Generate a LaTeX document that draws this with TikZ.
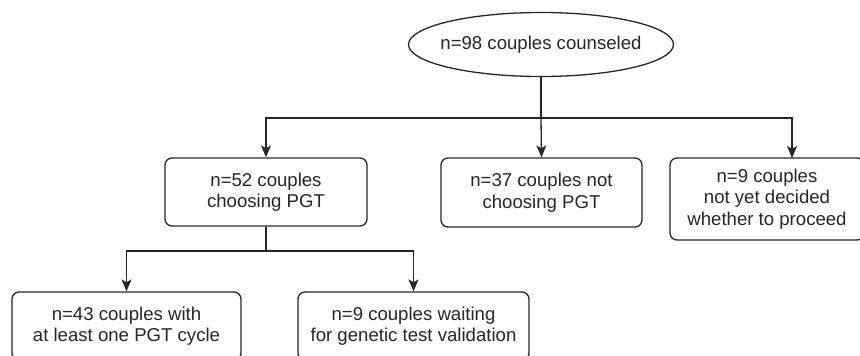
\documentclass[tikz,border=0pt]{standalone}
\usepackage{fontspec}
\setmainfont{Liberation Sans}
\usetikzlibrary{shapes.geometric,arrows.meta}
\definecolor{ink}{HTML}{262626}
\tikzset{
  x=1pt, y=-1pt,
  every node/.style={font=\fontsize{18.6}{21.5}\selectfont, text=ink},
  box/.style={draw=ink, line width=1.3pt, rounded corners=7pt, align=center, inner sep=0pt},
  oval/.style={draw=ink, line width=1.3pt, ellipse, inner sep=0pt, minimum width=265pt, minimum height=64pt},
  conn/.style={draw=ink, line width=1.3pt},
  arr/.style={conn, -{Stealth[length=12pt,width=10pt,inset=3pt]}}
}
\begin{document}
\begin{tikzpicture}
\useasboundingbox (0,0) rectangle (860,356);
\node[oval] (top) at (541,44.5) {};
\node (toptext) at (top.center) {n=98 couples counseled};
\node[box, minimum width=202pt, minimum height=68pt] (b1) at (266,192) {n=52 couples\\choosing PGT};
\node[box, minimum width=201pt, minimum height=69pt] (b2) at (541.5,192.5) {n=37 couples not\\choosing PGT};
\node[box, minimum width=194pt, minimum height=82pt] (b3) at (767,199) {n=9 couples\\not yet decided\\whether to proceed};
\node[box, minimum width=229pt, minimum height=68pt] (b4) at (126.5,326) {n=43 couples with\\at least one PGT cycle};
\node[box, minimum width=231pt, minimum height=68pt] (b5) at (413.5,326) {n=9 couples waiting\\for genetic test validation};
\coordinate (j1) at (541,118);
\coordinate (b3in) at (792,158);
\coordinate (j2) at (266,251);
\draw[conn] (top.south) -- (j1);
\draw[arr] (j1) -| (b1.north);
\draw[arr] (j1) -- (b2.north);
\draw[arr] (j1) -| (b3in);
\draw[conn] (b1.south) -- (j2);
\draw[arr] (j2) -| (b4.north);
\draw[arr] (j2) -| (b5.north);
\end{tikzpicture}
\end{document}
